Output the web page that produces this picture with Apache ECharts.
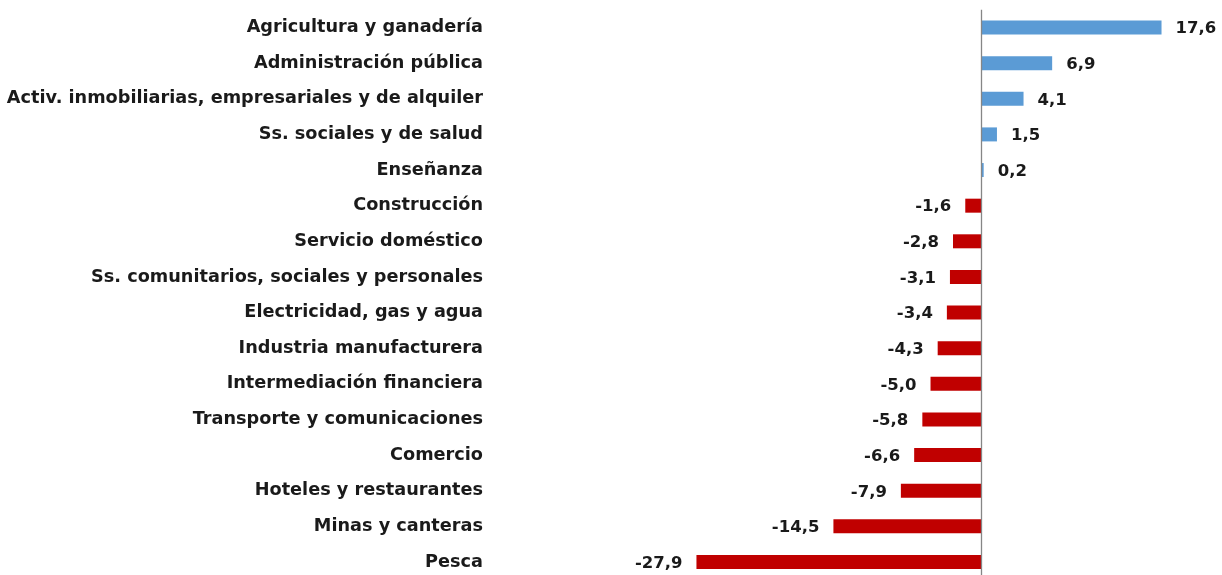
<!DOCTYPE html>
<html><head><meta charset="utf-8">
<script src="https://cdn.jsdelivr.net/npm/echarts@6/dist/echarts.min.js"></script>
<style>html,body{margin:0;padding:0;background:#fff}#c{width:1222px;height:575px}</style>
</head><body><div id="c"></div>
<script>
const categories = ["Agricultura y ganadería","Administración pública","Activ. inmobiliarias, empresariales y de alquiler","Ss. sociales y de salud","Enseñanza","Construcción","Servicio doméstico","Ss. comunitarios, sociales y personales","Electricidad, gas y agua","Industria manufacturera","Intermediación financiera","Transporte y comunicaciones","Comercio","Hoteles y restaurantes","Minas y canteras","Pesca"];
const values = [17.6,6.9,4.1,1.5,0.2,-1.6,-2.8,-3.1,-3.4,-4.3,-5.0,-5.8,-6.6,-7.9,-14.5,-27.9];
const posColor = '#5B9BD5', negColor = '#C00000';
const FONT = 'DejaVu Sans';
const chart = echarts.init(document.getElementById('c'));
const fmt = v => v.toFixed(1).replace('.', ',');
chart.setOption({
  animation:false,
  grid:{left:491, right:15.5, top:9.7, height:570.1, containLabel:false, outerBoundsMode:'none'},
  xAxis:{type:'value', min:-48, max:22, interval:2, axisLabel:{show:false}, splitLine:{show:false}, axisLine:{show:false}, axisTick:{show:false}},
  yAxis:{type:'category', inverse:true, data:categories, axisLine:{show:false}, axisTick:{show:false},
    axisLabel:{margin:8, color:'#1a1a1a', fontFamily:FONT, fontWeight:'bold', fontSize:17.7}},
  series:[{type:'bar', barWidth:14,
    data: values.map(v=>({value:v, itemStyle:{color: v>=0?posColor:negColor},
      label:{show:true, position: v>=0?'right':'left', distance:14, offset:[0,1.5], formatter: p=>fmt(p.value),
        color:'#1a1a1a', fontFamily:FONT, fontWeight:'bold', fontSize:16.5}})),
    markLine:{silent:true, symbol:'none', label:{show:false}, lineStyle:{color:'#868686', width:1.3, type:'solid'}, data:[{xAxis:0}]}
  }]
});
</script></body></html>
